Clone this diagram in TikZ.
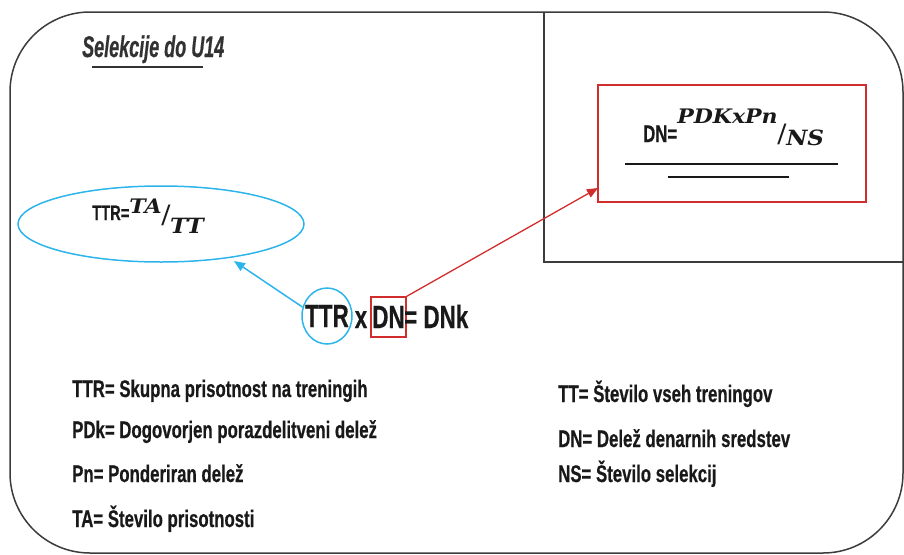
\documentclass[tikz,border=0pt]{standalone}
\usepackage{fontspec}
\setmainfont{Liberation Sans}[FakeStretch=0.7, BoldFeatures={FakeBold=0.5}]
\newfontfamily\titlefont{Liberation Sans}[FakeStretch=0.6, BoldItalicFeatures={FakeBold=0.5}]
\newfontfamily\fracfont{DejaVu Serif}[FakeStretch=1.1]
\newfontfamily\slfont{Liberation Serif}
\usetikzlibrary{arrows.meta,positioning,shapes.geometric}
\definecolor{lblue}{RGB}{45,180,235}
\definecolor{dred}{RGB}{210,45,45}
\definecolor{ink}{RGB}{25,25,25}
\definecolor{framegray}{RGB}{60,60,60}
\definecolor{titlegray}{RGB}{50,50,50}
\newcommand{\fnum}[1]{{\fracfont\bfseries\itshape\fontsize{20}{20}\selectfont #1}}
\newcommand{\fden}[1]{{\fracfont\bfseries\itshape\fontsize{21}{21}\selectfont #1}}
\newcommand{\fsl}{{\slfont\fontsize{31}{31}\selectfont /}}

\begin{document}
\begin{tikzpicture}[x=1pt,y=-1pt,
  txt/.style={anchor=base west, inner sep=0pt, text=ink, font=\bfseries\fontsize{24}{24}\selectfont},
  big/.style={inner sep=0pt, text=ink, font=\bfseries\fontsize{32}{32}\selectfont},
  blueline/.style={draw=lblue, line width=1.5pt},
  redline/.style={draw=dred, line width=1.3pt},
  arr/.style={-{Triangle[length=11pt,width=9pt]}}]
\useasboundingbox (0,0) rectangle (904,554);

\coordinate (btip) at (234,261);
\coordinate (rtip) at (598,188);
\coordinate (L1a) at (625,164);
\coordinate (L1b) at (838,164);
\coordinate (L2a) at (668,177);
\coordinate (L2b) at (789,177);

\draw[draw=framegray, line width=1.5pt, rounded corners=80pt] (10,12) rectangle (903,553);
\draw[draw=framegray, line width=1.5pt] (544,12) -- (544,262) -- (904,262);

\node[anchor=base west, inner sep=0pt, text=titlegray,
  font=\titlefont\bfseries\itshape\fontsize{30}{30}\selectfont] (title) at (82,57) {Selekcije do U14};
\draw[draw=titlegray, line width=2pt] ([shift={(10,10)}]title.base west) -- ([shift={(-21,10)}]title.base east);

% TTR
\node[ellipse, blueline, minimum width=286pt, minimum height=76pt] (ttrell) at (161,224) {};
\node[txt, font=\bfseries\fontsize{21}{21}\selectfont] (ttrform) at (92,220) {TTR=\raisebox{7pt}{\fnum{TA}}\raisebox{-5pt}{\fsl}\raisebox{-13pt}{\fden{TT}}};

% DN
\node[draw=dred, line width=1.5pt, minimum width=268pt, minimum height=117pt] (dnbox) at (732,143.5) {};
\node[txt] (dnform) at (643,142) {DN=\raisebox{19pt}{\fnum{PDKxPn}}\raisebox{-2pt}{\fsl}\raisebox{-3pt}{\fden{NS}}};
\draw[draw=ink, line width=1.3pt] (L1a) -- (L1b);
\draw[draw=ink, line width=1.3pt] (L2a) -- (L2b);

\node[ellipse, blueline, big, inner xsep=-12pt, inner ysep=0pt, minimum width=50pt, minimum height=56pt] (ttr) at (327,316) {TTR};
\node[big, anchor=base] (times) at (361,328) {x};
\node[draw=dred, line width=1.3pt, big, minimum width=35pt, minimum height=40pt] (dn) at (388.5,317) {DN};
\node[big, anchor=base west] (dnk) at (404,328) {= DNk};

\draw[blueline, arr] (ttr.160) -- (btip);
\draw[redline, arr] (dn.north east) -- (rtip);

\node[txt] (l1) at (72,397) {TTR= Skupna prisotnost na treningih};
\node[txt] (l2) at (72,438) {PDk= Dogovorjen porazdelitveni delež};
\node[txt] (l3) at (72,482) {Pn= Ponderiran delež};
\node[txt] (l4) at (72,527) {TA= Število prisotnosti};
\node[txt] (r1) at (558,402) {TT= Število vseh treningov};
\node[txt] (r2) at (558,447) {DN= Delež denarnih sredstev};
\node[txt] (r3) at (558,482) {NS= Število selekcij};
\end{tikzpicture}
\end{document}
